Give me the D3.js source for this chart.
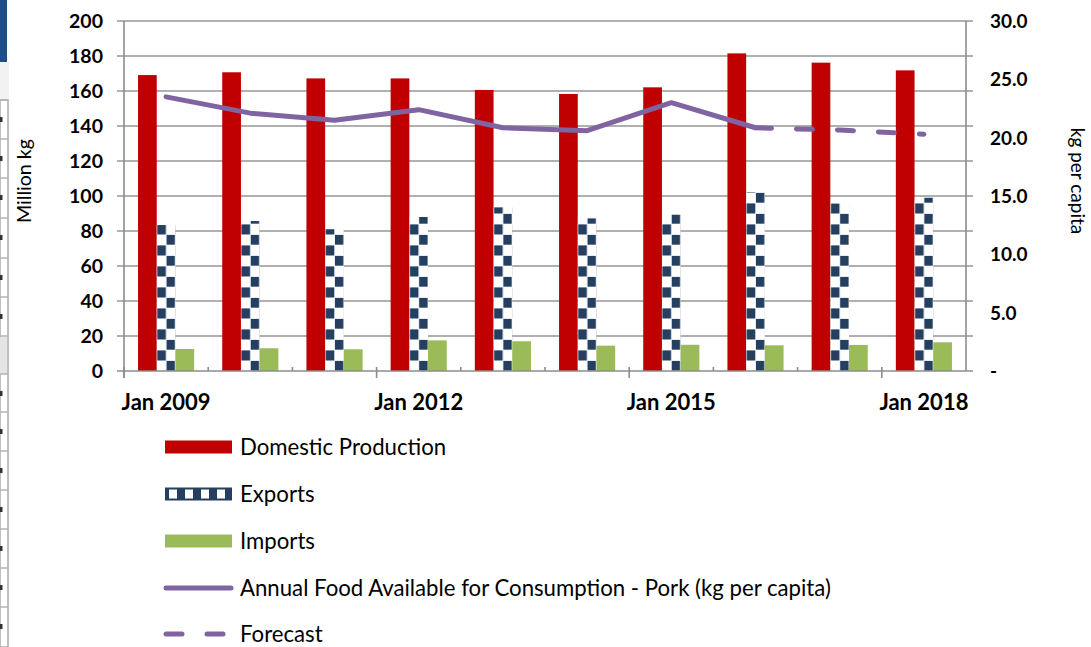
<!DOCTYPE html>
<html><head><meta charset="utf-8">
<script src="https://cdn.jsdelivr.net/npm/d3@7"></script>
<style>
body{margin:0;background:#fff;overflow:hidden;}
svg{display:block;font-family:Lato,"Open Sans",sans-serif;}
</style>
</head><body>
<svg id="c" width="1091" height="647"></svg>
<script>
// ---------- data ----------
const years = ["2009","2010","2011","2012","2013","2014","2015","2016","2017","2018"];
const domestic = [169.1,170.7,167.2,167.2,160.6,158.3,162.1,181.5,176.2,171.8];
const exportsV = [83.4,85.7,81.0,88.0,93.5,87.2,89.3,102.3,95.8,99.0];
const imports  = [12.6,13.0,12.4,17.5,17.0,14.5,15.0,14.7,14.9,16.4];
const perCapita = [23.5,22.1,21.5,22.4,20.85,20.6,23.0,20.85,20.65,20.3];
const forecastFrom = "2016";
const leftTicks = [0,20,40,60,80,100,120,140,160,180,200];
const rightTicks = [0,5,10,15,20,25,30];
const rightTickLabels = ["-","5.0","10.0","15.0","20.0","25.0","30.0"];
const labelYears = ["2009","2012","2015","2018"];
const seriesNames = ["Domestic Production","Exports","Imports"];
const lineName = "Annual Food Available for Consumption - Pork (kg per capita)";
const forecastName = "Forecast";
const leftTitle = "Million kg";
const rightTitle = "kg per capita";

// ---------- styles ----------
const C = {red:"#C00000", navy:"#243F60", green:"#9BBB59", purple:"#8064A2", grid:"#969696", axis:"#8C8C8C"};
const M = {l:124, r:966, t:21, b:371};

const svg = d3.select("#c");
const defs = svg.append("defs");

// spreadsheet remnants at the far left edge
const edge = svg.append("g");
edge.append("rect").attr("x",0).attr("y",0).attr("width",7).attr("height",62).attr("fill","#1F4E86");
edge.append("rect").attr("x",0).attr("y",62).attr("width",9).attr("height",38).attr("fill","#F2F2F2");
edge.append("rect").attr("x",0).attr("y",100).attr("width",8).attr("height",547).attr("fill","#fff").attr("stroke","#ABABAB").attr("stroke-width",1.5);
const rowY = [100,139,178,218,258,297,336,374,412,451,490,529,568,607];
rowY.forEach((y,i)=>{
  edge.append("line").attr("x1",0).attr("x2",8).attr("y1",y).attr("y2",y).attr("stroke","#B5B5B5").attr("stroke-width",1.5);
  if(i!==6) edge.append("rect").attr("x",0).attr("y",y+17).attr("width",2.5).attr("height",5).attr("fill","#333");
  else edge.append("rect").attr("x",0).attr("y",y+1).attr("width",7).attr("height",37).attr("fill","#E4E4E4");
});

// ---------- scales ----------
const x = d3.scaleBand().domain(years).range([M.l, M.r]).paddingInner(0).paddingOuter(0);
const xs = d3.scaleBand().domain(seriesNames).range([0, x.bandwidth()]).paddingInner(0).paddingOuter(0.75);
const y = d3.scaleLinear().domain([0,200]).range([M.b, M.t]);
const y2 = d3.scaleLinear().domain([0,30]).range([M.b, M.t]);

// ---------- gridlines ----------
svg.append("g").selectAll("line").data(leftTicks.filter(d=>d>0)).join("line")
  .attr("x1",M.l-7).attr("x2",M.r+7).attr("y1",d=>y(d)).attr("y2",d=>y(d))
  .attr("stroke",C.grid).attr("stroke-width",1.6);

// ---------- bars ----------
const rows = years.map((yr,i)=>({yr, vals:[domestic[i],exportsV[i],imports[i]]}));
const bw = xs.bandwidth();
rows.forEach((r,i)=>{
  const ex = x(r.yr)+xs("Exports");
  const p = defs.append("pattern").attr("id","chk"+i).attr("patternUnits","userSpaceOnUse")
    .attr("x",ex).attr("y",M.b).attr("width",bw).attr("height",21);
  p.append("rect").attr("width",bw).attr("height",21).attr("fill","#fff");
  p.append("rect").attr("x",0.4).attr("y",0.4).attr("width",bw/2-0.6).attr("height",10.1).attr("fill",C.navy);
  p.append("rect").attr("x",bw/2+0.4).attr("y",10.9).attr("width",bw/2-0.8).attr("height",9.8).attr("fill",C.navy);
});
const colors = [C.red, null, C.green];
const gBars = svg.append("g");
rows.forEach((r,i)=>{
  gBars.selectAll(null).data(r.vals.map((v,k)=>({k,v}))).join("rect")
    .attr("x",d=>x(r.yr)+xs(seriesNames[d.k]))
    .attr("width",bw)
    .attr("y",d=>y(d.v)).attr("height",d=>y(0)-y(d.v))
    .attr("fill",d=>d.k===1?`url(#chk${i})`:colors[d.k]);
});

// ---------- axes ----------
const ax = svg.append("g").attr("stroke",C.axis).attr("stroke-width",1.6);
ax.append("line").attr("x1",M.l).attr("x2",M.l).attr("y1",M.t).attr("y2",M.b+7);
ax.append("line").attr("x1",M.r).attr("x2",M.r).attr("y1",M.t).attr("y2",M.b);
ax.append("line").attr("x1",M.l-7).attr("x2",M.r+7).attr("y1",M.b).attr("y2",M.b);
ax.selectAll(null).data(years).join("line")
  .attr("x1",d=>x(d)).attr("x2",d=>x(d))
  .attr("y1",M.b-4)
  .attr("y2",d=>labelYears.includes(d)?M.b+7:M.b);

// left tick labels
svg.append("g").selectAll("text").data(leftTicks).join("text")
  .attr("x",103).attr("y",d=>y(d)+7).attr("text-anchor","end")
  .attr("font-weight","bold").attr("font-size",19.5).attr("fill","#000").text(d=>d);
// right tick labels
svg.append("g").selectAll("text").data(rightTicks).join("text")
  .attr("x",990).attr("y",d=>y2(d)+7).attr("text-anchor","start")
  .attr("font-weight","bold").attr("font-size",19).attr("fill","#000").text((d,i)=>rightTickLabels[i]);
// x labels
svg.append("g").selectAll("text").data(labelYears).join("text")
  .attr("x",d=>x(d)+x.bandwidth()/2).attr("y",410).attr("text-anchor","middle")
  .attr("font-weight","bold").attr("font-size",22).attr("fill","#000").text(d=>"Jan "+d);

// axis titles
svg.append("text").attr("transform","translate(31,181) rotate(-90)").attr("text-anchor","middle")
  .attr("font-size",19.6).text(leftTitle);
svg.append("text").attr("transform","translate(1071,181) rotate(90)").attr("text-anchor","middle")
  .attr("font-size",19).text(rightTitle);

// ---------- line ----------
const pts = years.map((yr,i)=>({yr, v:perCapita[i]}));
const fi = years.indexOf(forecastFrom);
const line = d3.line().x(d=>x(d.yr)+x.bandwidth()/2).y(d=>y2(d.v));
svg.append("path").attr("d",line(pts.slice(0,fi+1))).attr("fill","none")
  .attr("stroke",C.purple).attr("stroke-width",5).attr("stroke-linecap","round").attr("stroke-linejoin","round");
svg.append("path").attr("d",line(pts.slice(fi))).attr("fill","none")
  .attr("stroke",C.purple).attr("stroke-width",5).attr("stroke-linecap","round").attr("stroke-dasharray","16,25");

// ---------- legend ----------
const legY = [447,494,541,588,634];
const lp = defs.append("pattern").attr("id","chkL").attr("patternUnits","userSpaceOnUse")
  .attr("x",161).attr("y",legY[1]-6.5).attr("width",16).attr("height",13);
lp.append("rect").attr("width",16).attr("height",13).attr("fill",C.navy);
lp.append("rect").attr("x",8).attr("y",2).attr("width",8).attr("height",9).attr("fill","#fff");

const lg = svg.append("g");
const legItems = [
  {name:seriesNames[0], type:"rect", fill:C.red},
  {name:seriesNames[1], type:"rect", fill:"url(#chkL)"},
  {name:seriesNames[2], type:"rect", fill:C.green},
  {name:lineName, type:"line"},
  {name:forecastName, type:"dash"}
];
legItems.forEach((it,i)=>{
  const cy = legY[i];
  if(it.type==="rect"){
    lg.append("rect").attr("x",165).attr("y",cy-6.5).attr("width",67).attr("height",13).attr("fill",it.fill);
  } else {
    lg.append("line").attr("x1",166).attr("x2",231).attr("y1",cy).attr("y2",cy)
      .attr("stroke",C.purple).attr("stroke-width",5).attr("stroke-linecap","round")
      .attr("stroke-dasharray",it.type==="dash"?"16,25":null);
  }
  lg.append("text").attr("x",240).attr("y",cy+7.5).attr("font-size",22.2).attr("fill","#000").text(it.name);
});
</script>
</body></html>
